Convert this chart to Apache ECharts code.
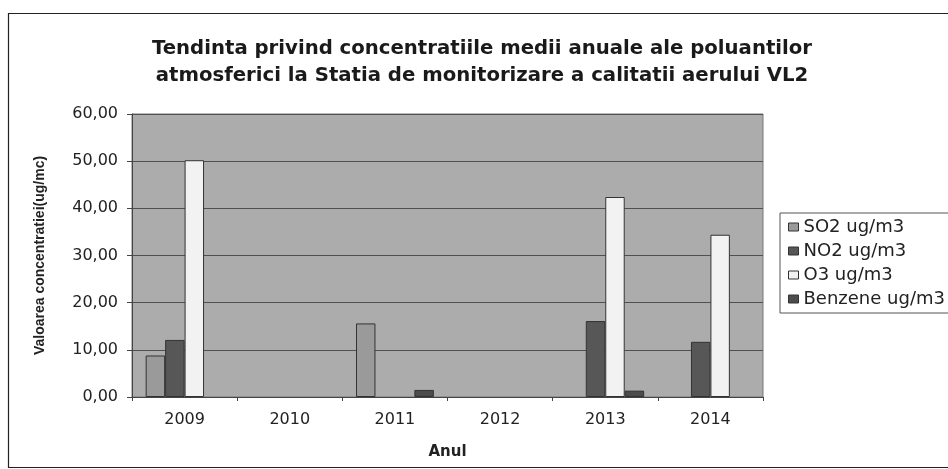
<!DOCTYPE html>
<html>
<head>
<meta charset="utf-8">
<script src="https://cdn.jsdelivr.net/npm/echarts@6/dist/echarts.min.js"></script>
<style>
  html, body { margin: 0; padding: 0; background: #fff; }
  #chart { width: 948px; height: 469px; }
</style>
</head>
<body>
<div id="chart"></div>
<script>
  // years on the x axis
  var years = ['2009', '2010', '2011', '2012', '2013', '2014'];
  // mean annual concentrations (ug/m3), null where nothing was drawn
  var so2 = [8.8, null, 15.6, null, null, null];
  var no2 = [12.1, null, null, null, 16.1, 11.7];
  var o3 = [50.2, null, null, null, 42.4, 34.4];
  var benzene = [null, null, 1.5, null, 1.35, null];
  var seriesNames = ['SO2 ug/m3', 'NO2 ug/m3', 'O3 ug/m3', 'Benzene ug/m3'];

  var chart = echarts.init(document.getElementById('chart'));
  var font = '"DejaVu Sans", Arial, sans-serif';

  function bar(name, data, color) {
    return {
      name: name,
      type: 'bar',
      data: data,
      barGap: '0%',
      barCategoryGap: '26%',
      itemStyle: { color: color, borderColor: '#333', borderWidth: 1 }
    };
  }

  var option = {
    backgroundColor: '#ffffff',
    animation: false,
    textStyle: { fontFamily: font },
    title: {
      text: 'Tendinta privind concentratiile medii anuale ale poluantilor\natmosferici la Statia de monitorizare a calitatii aerului VL2',
      left: 477,
      top: 30,
      textAlign: 'center',
      textStyle: { fontSize: 19.7, fontWeight: 'bold', color: '#1a1a1a', lineHeight: 27, fontFamily: font }
    },
    graphic: [
      {
        type: 'rect',
        shape: { x: 8.5, y: 13.5, width: 960, height: 454 },
        style: { fill: 'none', stroke: '#222', lineWidth: 1.2 },
        z: -1
      }
    ],
    legend: {
      data: seriesNames,
      orient: 'vertical',
      left: 780,
      top: 213,
      itemWidth: 10,
      itemHeight: 8,
      itemGap: 6,
      itemTextGap: 6,
      icon: 'rect',
      padding: [5, 30, 5, 8],
      borderColor: '#555',
      borderWidth: 1,
      backgroundColor: '#fff',
      textStyle: { fontSize: 18, color: '#222', fontFamily: font },
      itemStyle: { borderColor: '#333', borderWidth: 1 }
    },
    grid: {
      left: 132,
      right: 185,
      top: 114,
      bottom: 72,
      show: true,
      backgroundColor: '#acacac',
      borderColor: '#777',
      borderWidth: 1
    },
    xAxis: {
      type: 'category',
      data: years,
      name: 'Anul',
      nameLocation: 'middle',
      nameGap: 48,
      nameTextStyle: { fontSize: 15, fontWeight: 'bold', color: '#222' },
      axisLine: { lineStyle: { color: '#444' } },
      axisTick: { show: true, length: 4, lineStyle: { color: '#444' } },
      axisLabel: { fontSize: 16, color: '#222', margin: 15 }
    },
    yAxis: {
      type: 'value',
      min: 0,
      max: 60,
      interval: 10,
      name: 'Valoarea concentratiei(ug/mc)',
      nameLocation: 'middle',
      nameGap: 85,
      nameTextStyle: { fontSize: 14, fontWeight: 'bold', color: '#222', fontFamily: 'Arial, "Liberation Sans", sans-serif' },
      axisLine: { show: true, lineStyle: { color: '#444' } },
      axisTick: { show: true, length: 5, lineStyle: { color: '#444' } },
      splitLine: { lineStyle: { color: '#505050', width: 1.2 } },
      axisLabel: {
        fontSize: 16,
        color: '#222',
        margin: 14,
        formatter: function (v) { return v.toFixed(2).replace('.', ','); }
      }
    },
    series: [
      bar(seriesNames[0], so2, '#9a9a9a'),
      bar(seriesNames[1], no2, '#575757'),
      bar(seriesNames[2], o3, '#f2f2f2'),
      bar(seriesNames[3], benzene, '#4c4c4c')
    ]
  };

  chart.setOption(option);
</script>
</body>
</html>
